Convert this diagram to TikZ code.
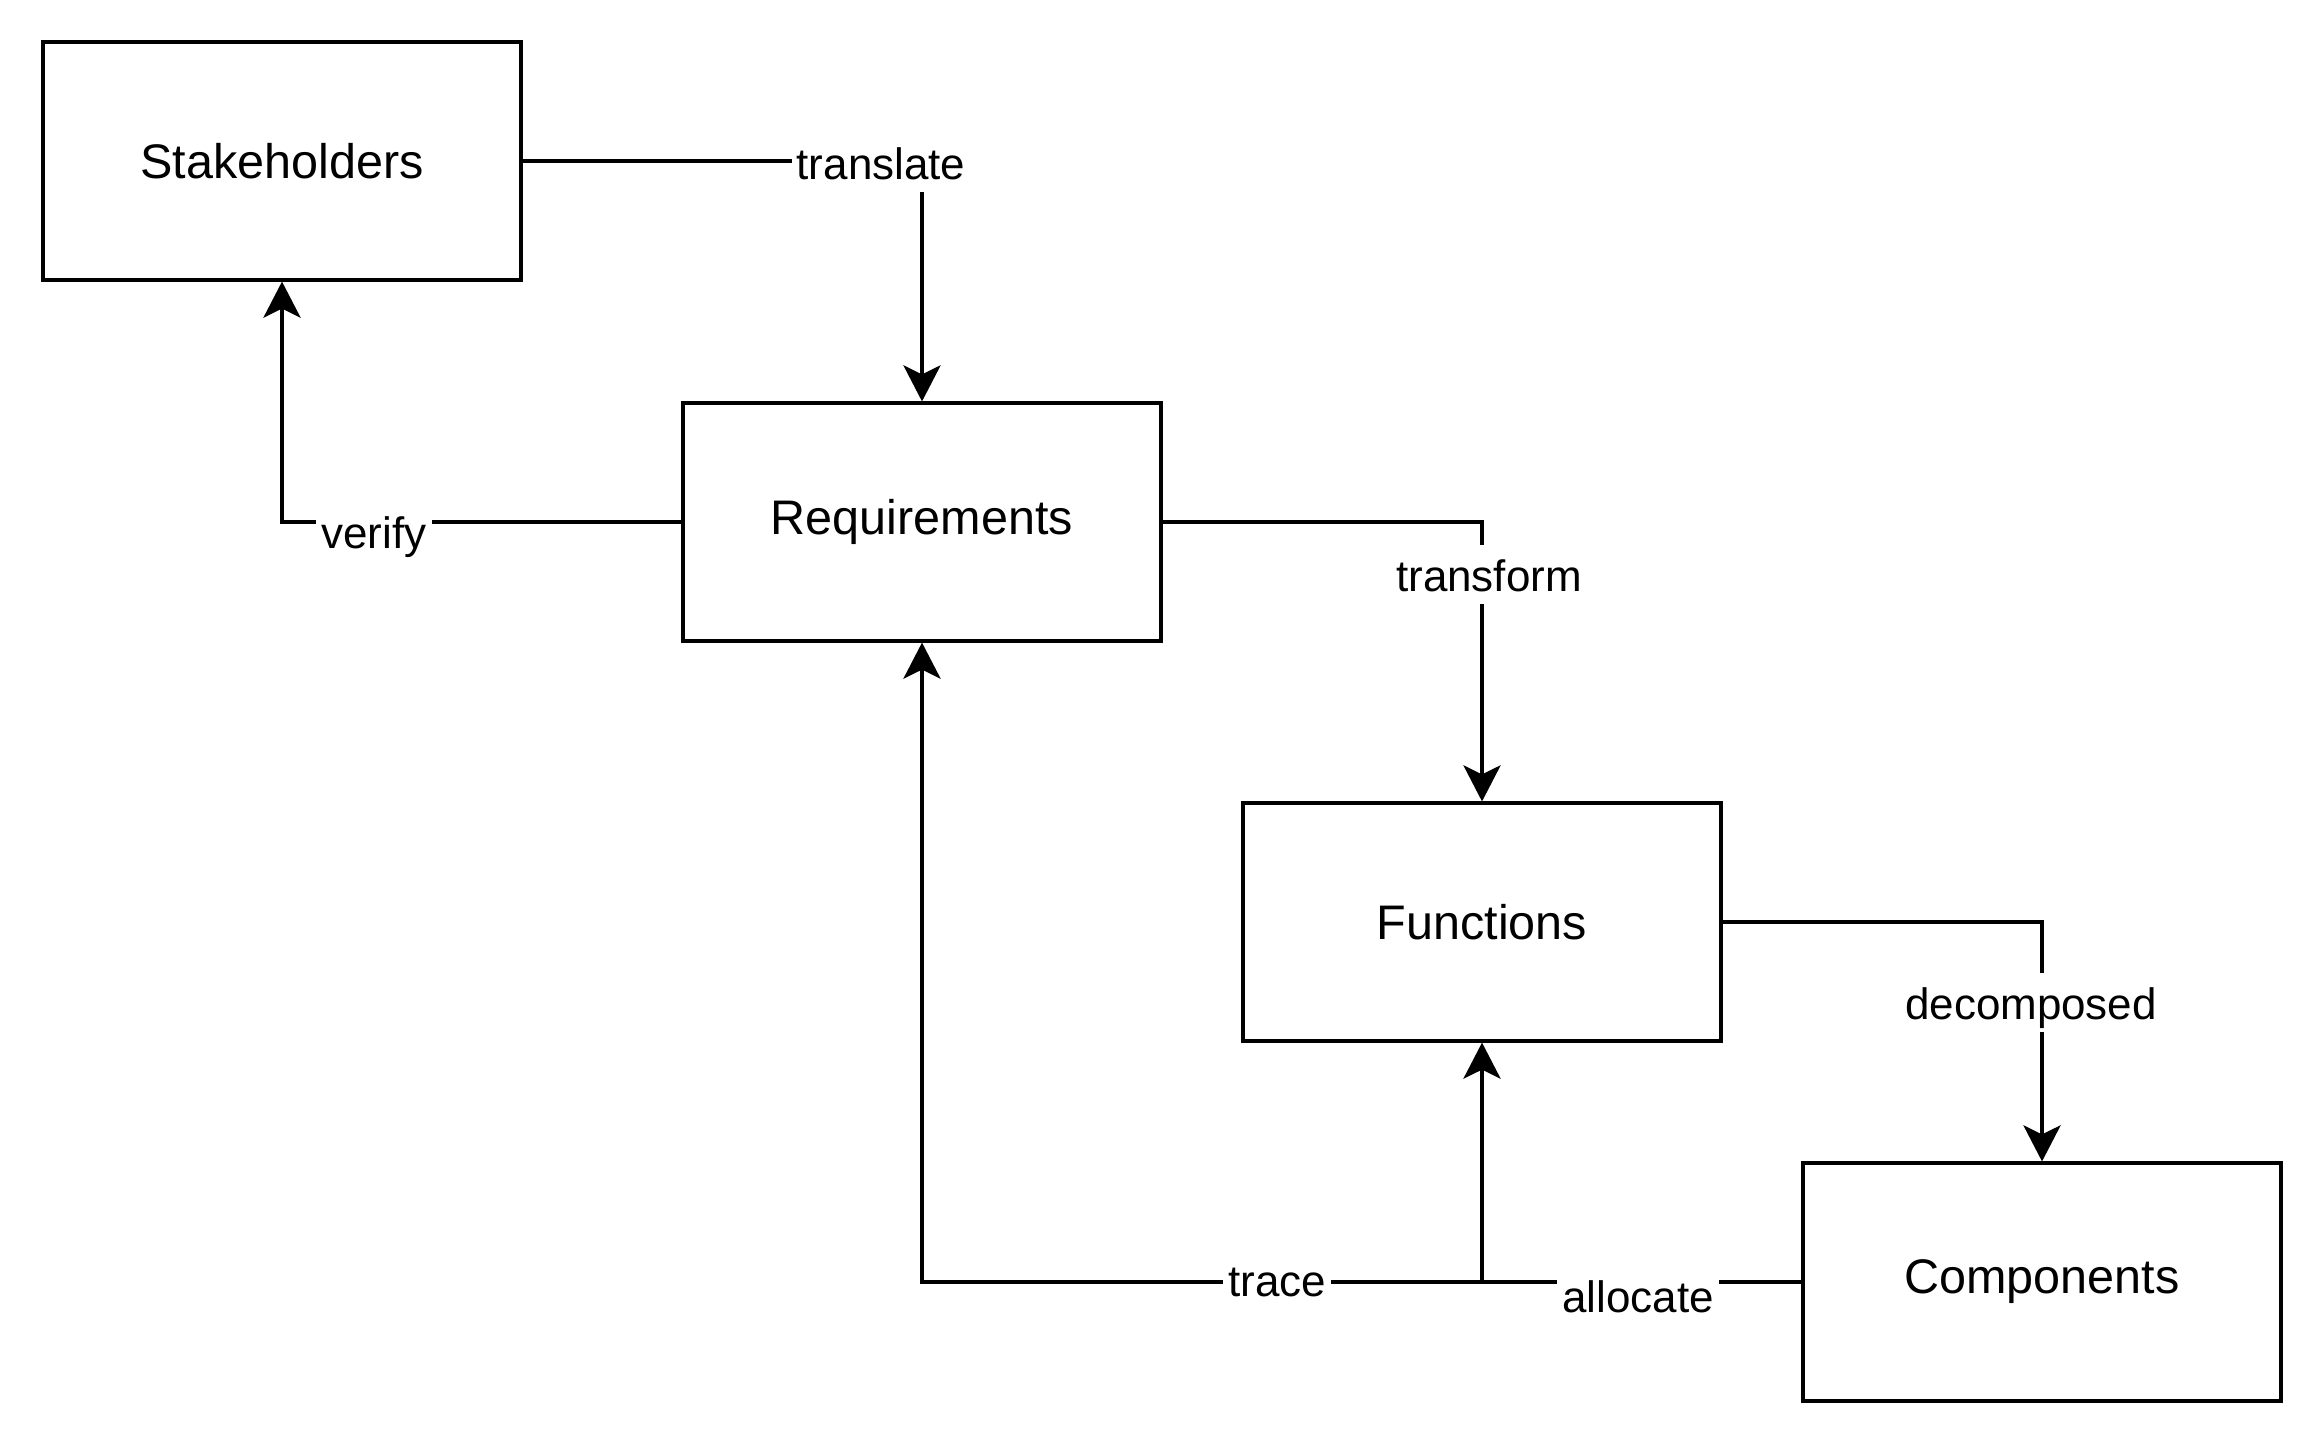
\documentclass[tikz,border=0pt]{standalone}
\usepackage{fontspec}
\setmainfont{Liberation Sans}
\usetikzlibrary{arrows.meta}
\begin{document}
\begin{tikzpicture}[
        x=0.01cm, y=-0.01cm,
        block/.style={rectangle,draw,line width=1.15pt,minimum width=4.78cm,minimum height=2.37cm,font=\fontsize{13.8}{16}\selectfont},
        edgetext/.style={fill=white,inner xsep=0.05cm,inner ysep=0.13cm,text height=0.33cm,text depth=0cm,anchor=base,font=\fontsize{12.5}{15}\selectfont},
        flow/.style={line width=1.15pt,-{Stealth[length=0.36cm,width=0.37cm,inset=0.09cm]}}
        ]
    
        \useasboundingbox (0, 0) rectangle (2324, 1444);
        \node (stake) at (282, 161) [block] {Stakeholders};
        \node (req) at (922, 522) [block] {Requirements};
        \node (func) at (1482, 922) [block] {Functions};
        \node (comp) at (2042, 1282) [block] {Components};
        \draw[flow] (stake.east) -| (req.north);
        \draw[flow] (req.west) -| (stake.south);
        \draw[flow] (req.east) -| (func.north);
        \draw[flow] (func.east) -| (comp.north);
        \draw[flow] (comp.west) -| (req.south);
        \draw[flow] (comp.west) -| (func.south);
        \node (translate) at (881, 179) [edgetext] {translate};
        \node (verify) at (374, 548) [edgetext] {verify};
        \node (transform) at (1489, 591) [edgetext] {transform};
        \node (decomposed) at (2031, 1019) [edgetext] {decomposed};
        \node (trace) at (1277, 1296) [edgetext] {trace};
        \node (allocate) at (1638, 1312) [edgetext] {allocate};
      \end{tikzpicture}
\end{document}
